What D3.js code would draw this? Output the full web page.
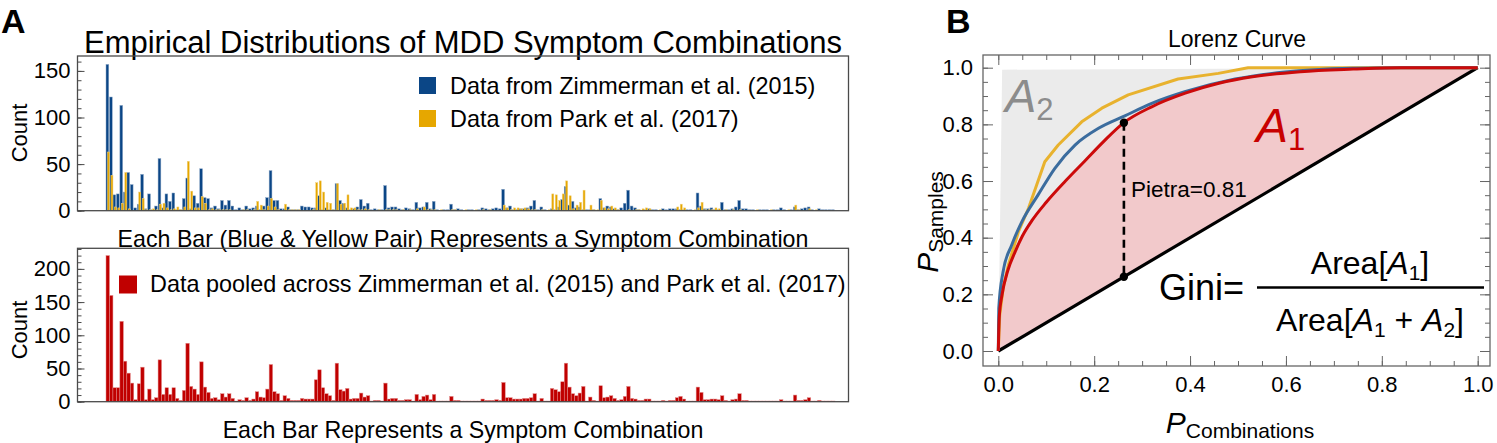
<!DOCTYPE html>
<html><head><meta charset="utf-8">
<script src="https://cdn.jsdelivr.net/npm/d3@7"></script>
<style>
html,body{margin:0;padding:0;background:#fff;}
svg{display:block;font-family:"Liberation Sans",Arial,sans-serif;}
</style></head><body>
<svg id="c" width="1497" height="443"></svg>
<script>
// ---------- DATA ----------
const combinations = d3.range(1, 211);
const zimmerman = [
157,122,17,18,113,20,41,28,3,7,
39,2,18,1,5,56,3,18,10,19,
1,1,13,35,2,16,8,45,14,13,
3,5,2,11,6,11,5,1,3,1,
5,2,3,5,1,5,14,43,11,11,
2,2,4,1,1,1,5,4,4,3,
3,16,1,3,1,1,29,11,8,3,
1,2,4,12,5,8,1,2,1,1,
27,3,4,4,2,1,3,2,1,9,
3,4,9,2,10,1,0,1,1,7,
1,2,1,0,1,1,0,1,3,2,
1,2,3,2,23,3,5,1,1,2,
2,3,5,11,1,4,1,0,2,1,
4,12,26,6,10,3,4,1,1,1,
1,0,13,3,5,4,2,1,3,8,
22,5,3,1,0,1,2,1,1,0,
2,1,2,2,2,1,1,1,1,0,
19,5,2,2,3,1,1,9,1,1,
2,4,11,2,2,1,1,0,1,1,
1,0,1,1,3,1,0,1,4,1,
2,3,4,1,0,2,1,1,1,1];
const park = [
63,38,4,3,8,41,2,0,0,20,
13,1,1,2,1,7,8,3,1,2,
4,1,4,53,21,3,3,15,8,1,
2,1,1,1,1,1,0,0,0,1,
1,0,1,10,6,1,5,13,4,1,
0,7,1,1,1,1,0,0,0,1,
30,32,20,9,8,1,29,7,8,17,
3,3,1,1,2,1,0,0,1,0,
1,1,1,1,0,1,0,1,0,2,
0,4,1,1,1,0,1,0,0,1,
1,0,0,1,0,0,1,0,1,0,
1,0,0,0,6,3,1,3,3,2,
3,2,1,1,0,1,0,1,18,17,
11,18,32,16,2,6,9,22,0,6,
1,1,11,3,2,5,3,1,0,0,
1,0,1,1,2,3,2,0,0,1,
0,0,0,0,4,7,3,0,0,1,
3,9,1,1,1,3,2,0,1,0,
1,0,1,0,0,0,0,1,0,0,
0,1,0,0,0,0,1,0,6,1,
0,0,2,0,1,0,0,0,0,0];
const pooled = [
220,160,21,21,121,61,43,28,3,27,
52,3,19,3,6,63,11,21,11,21,
5,2,17,88,23,19,11,60,22,14,
5,6,3,12,7,12,5,1,3,2,
6,2,4,15,7,6,19,56,15,12,
2,9,5,2,2,2,5,4,4,4,
33,48,21,12,9,2,58,18,16,20,
4,5,5,13,7,9,1,2,2,1,
28,4,5,5,2,2,3,3,1,11,
3,8,10,3,11,1,1,1,1,8,
2,2,1,1,1,1,1,1,4,2,
2,2,3,2,29,6,6,4,4,4,
5,5,6,12,1,5,1,1,20,18,
15,30,58,22,12,9,13,23,1,7,
2,1,24,6,7,9,5,2,3,8,
23,5,4,2,2,4,4,1,1,1,
2,1,2,2,6,8,4,1,1,1,
22,14,3,3,4,4,3,9,2,1,
3,4,12,2,2,1,1,1,1,1,
1,1,1,1,3,1,1,1,10,2,
2,3,6,1,1,2,1,1,1,1];
const countTicksTop = [0,50,100,150];
const countMinorTop = [0,10,20,30,40,50,60,70,80,90,100,110,120,130,140,150,160];
const countTicksBottom = [0,50,100,150,200];
const countMinorBottom = [0,10,20,30,40,50,60,70,80,90,100,110,120,130,140,150,160,170,180,190,200,210,220,230];
const lorenzTicks = [0,0.2,0.4,0.6,0.8,1.0];
const lorenzMinor = [0,0.05,0.1,0.15,0.2,0.25,0.3,0.35,0.4,0.45,0.5,0.55,0.6,0.65,0.7,0.75,0.8,0.85,0.9,0.95,1.0];
const lorenzPooled = [[0,0],[0.002,0.12],[0.008,0.20],[0.020,0.285],[0.035,0.35],[0.050,0.405],[0.070,0.46],[0.100,0.525],[0.140,0.60],[0.180,0.67],[0.220,0.74],[0.262,0.806],[0.320,0.862],[0.390,0.910],[0.460,0.945],[0.530,0.968],[0.630,0.986],[0.740,0.995],[0.840,1.0],[1,1]];
const lorenzZimmerman = [[0,0],[0.001,0.151],[0.010,0.280],[0.028,0.374],[0.049,0.456],[0.083,0.551],[0.118,0.645],[0.160,0.727],[0.209,0.786],[0.264,0.830],[0.320,0.874],[0.389,0.915],[0.494,0.960],[0.598,0.985],[0.737,0.998],[0.841,1.0],[1,1]];
const lorenzPark = [[0,0],[0.003,0.127],[0.010,0.22],[0.021,0.304],[0.042,0.421],[0.063,0.504],[0.097,0.668],[0.125,0.727],[0.174,0.809],[0.216,0.857],[0.271,0.904],[0.375,0.960],[0.459,0.980],[0.521,1.0],[1,1]];
const pietraX = 0.262, pietraTop = 0.806, pietraLabel = "Pietra=0.81";

// ---------- STYLE ----------
const BLUE = "#0b4686", YELLOW = "#e6a700", RED = "#c00000";
const svg = d3.select("#c");
const FRAME = "#4a4a4a";

function txt(x, y, s, size, opts = {}) {
  return svg.append("text").attr("x", x).attr("y", y).attr("font-size", size)
    .attr("text-anchor", opts.anchor || "start").attr("fill", opts.fill || "#000")
    .attr("font-weight", opts.weight || "normal").attr("font-style", opts.style || "normal")
    .text(s);
}

// panel letters
txt(1, 33, "A", 34, {weight: "bold"});
txt(946, 33, "B", 34, {weight: "bold"});

// ---------- PANEL A ----------
const left = 77.5, right = 848.5;
const xBand = d3.scaleBand().domain(combinations).range([106, 835]).padding(0);
const bw = xBand.bandwidth();

txt(463, 53, "Empirical Distributions of MDD Symptom Combinations", 31, {anchor: "middle"});

function countPanel(top, bottom, yMax, major, minor) {
  const y = d3.scaleLinear().domain([0, yMax]).range([bottom, top]);
  const gMin = svg.append("g").attr("transform", `translate(${left},0)`)
    .call(d3.axisLeft(y).tickValues(minor).tickSize(-4).tickFormat(""));
  gMin.select(".domain").remove();
  gMin.selectAll("line").attr("stroke", FRAME);
  const gMaj = svg.append("g").attr("transform", `translate(${left},0)`)
    .call(d3.axisLeft(y).tickValues(major).tickSize(-7).tickPadding(7).tickFormat(d3.format("d")));
  gMaj.select(".domain").remove();
  gMaj.selectAll("line").attr("stroke", FRAME);
  gMaj.selectAll("text").attr("font-size", 22).attr("font-family", "Liberation Sans, Arial, sans-serif").attr("fill", "#000");
  return y;
}

// top panel
const yTop = countPanel(56, 210.7, 166, countTicksTop, countMinorTop);
const gTop = svg.append("g");
gTop.selectAll("rect.z").data(zimmerman).join("rect")
  .attr("x", (d, i) => xBand(combinations[i]))
  .attr("width", bw * 0.8)
  .attr("y", d => yTop(d)).attr("height", d => yTop(0) - yTop(d))
  .attr("fill", BLUE).attr("stroke", "#8fa9c8").attr("stroke-width", 0.5);
gTop.selectAll("rect.p").data(park).join("rect")
  .attr("x", (d, i) => xBand(combinations[i]) + bw * 0.42)
  .attr("width", bw * 0.58)
  .attr("y", d => yTop(d)).attr("height", d => yTop(0) - yTop(d))
  .attr("fill", YELLOW).attr("stroke", "#f0cf7a").attr("stroke-width", 0.5);
svg.append("rect").attr("x", left).attr("y", 56).attr("width", right - left).attr("height", 210.7 - 56)
  .attr("fill", "none").attr("stroke", FRAME).attr("stroke-width", 1.3);

// legend top
svg.append("rect").attr("x", 419).attr("y", 77).attr("width", 17).attr("height", 17).attr("fill", BLUE);
svg.append("rect").attr("x", 419).attr("y", 110).attr("width", 17).attr("height", 17).attr("fill", YELLOW);
txt(450, 93.5, "Data from Zimmerman et al. (2015)", 23.4);
txt(450, 126.5, "Data from Park et al. (2017)", 23.4);

txt(463, 247, "Each Bar (Blue & Yellow Pair) Represents a Symptom Combination", 23.2, {anchor: "middle"});

// bottom panel
const yBot = countPanel(248.3, 401.7, 231, countTicksBottom, countMinorBottom);
svg.append("g").selectAll("rect").data(pooled).join("rect")
  .attr("x", (d, i) => xBand(combinations[i]))
  .attr("width", bw)
  .attr("y", d => yBot(d)).attr("height", d => yBot(0) - yBot(d))
  .attr("fill", RED).attr("stroke", "#e38a8a").attr("stroke-width", 0.5);
svg.append("rect").attr("x", left).attr("y", 248.3).attr("width", right - left).attr("height", 401.7 - 248.3)
  .attr("fill", "none").attr("stroke", FRAME).attr("stroke-width", 1.3);
svg.append("rect").attr("x", 119).attr("y", 275.5).attr("width", 18).attr("height", 18).attr("fill", RED);
txt(150, 292, "Data pooled across Zimmerman et al. (2015) and Park et al. (2017)", 23.4);

txt(463, 438, "Each Bar Represents a Symptom Combination", 23.2, {anchor: "middle"});

// Count labels
svg.append("text").attr("transform", "translate(27,133) rotate(-90)").attr("text-anchor", "middle")
  .attr("font-size", 22).text("Count");
svg.append("text").attr("transform", "translate(27,330) rotate(-90)").attr("text-anchor", "middle")
  .attr("font-size", 22).text("Count");

// ---------- PANEL B ----------
const fx0 = 983, fx1 = 1490, fy0 = 55, fy1 = 366;
const lx = d3.scaleLinear().domain([0, 1]).range([998.3, 1477.7]);
const ly = d3.scaleLinear().domain([0, 1]).range([351, 67.7]);

txt(1237, 47, "Lorenz Curve", 23, {anchor: "middle"});

const line = d3.line().x(d => lx(d[0])).y(d => ly(d[1])).curve(d3.curveMonotoneX);
const lineLin = d3.line().x(d => lx(d[0])).y(d => ly(d[1]));

// gray A2 area (above pooled curve)
svg.append("path").attr("d", line(lorenzPooled) + "L" + lx(0.008) + "," + ly(0.993) + "Z")
  .attr("fill", "#ebebeb");
// pink A1 area (between pooled curve and diagonal)
svg.append("path").attr("d", line(lorenzPooled) + "L" + lx(0) + "," + ly(0) + "Z")
  .attr("fill", "#f2c9cb");

// frame & ticks
svg.append("rect").attr("x", fx0).attr("y", fy0).attr("width", fx1 - fx0).attr("height", fy1 - fy0)
  .attr("fill", "none").attr("stroke", "#666").attr("stroke-width", 1.3);
function lorenzAxis(axisFn, scale, tx, ty, sizeMinor, sizeMajor, labels) {
  const gm = svg.append("g").attr("transform", `translate(${tx},${ty})`)
    .call(axisFn(scale).tickValues(lorenzMinor).tickSize(sizeMinor).tickFormat(""));
  gm.select(".domain").remove(); gm.selectAll("line").attr("stroke", "#666");
  const gM = svg.append("g").attr("transform", `translate(${tx},${ty})`)
    .call(axisFn(scale).tickValues(lorenzTicks).tickSize(sizeMajor).tickPadding(10)
      .tickFormat(labels ? d3.format(".1f") : ""));
  gM.select(".domain").remove(); gM.selectAll("line").attr("stroke", "#666");
  gM.selectAll("text").attr("font-size", 22).attr("font-family", "Liberation Sans, Arial, sans-serif").attr("fill", "#000");
}
lorenzAxis(d3.axisLeft, ly, fx0, 0, -5, -10, true);
lorenzAxis(d3.axisRight, ly, fx1, 0, -5, -10, false);
lorenzAxis(d3.axisBottom, lx, 0, fy1, -5, -10, true);
lorenzAxis(d3.axisTop, lx, 0, fy0, -5, -10, false);

// diagonal
svg.append("line").attr("x1", lx(0)).attr("y1", ly(0)).attr("x2", lx(1)).attr("y2", ly(1))
  .attr("stroke", "#000").attr("stroke-width", 3.2);
// curves
svg.append("path").attr("d", lineLin(lorenzPark)).attr("fill", "none").attr("stroke", "#e8b22e").attr("stroke-width", 3).attr("stroke-linejoin", "round");
svg.append("path").attr("d", line(lorenzZimmerman)).attr("fill", "none").attr("stroke", "#3b6c9e").attr("stroke-width", 3);
svg.append("path").attr("d", line(lorenzPooled)).attr("fill", "none").attr("stroke", "#cc0a0a").attr("stroke-width", 3);

// Pietra
svg.append("line").attr("x1", lx(pietraX)).attr("x2", lx(pietraX)).attr("y1", ly(pietraTop)).attr("y2", ly(pietraX))
  .attr("stroke", "#000").attr("stroke-width", 2.6).attr("stroke-dasharray", "8,5");
[[pietraX, pietraTop], [pietraX, pietraX]].forEach(p => {
  svg.append("circle").attr("cx", lx(p[0])).attr("cy", ly(p[1])).attr("r", 4.2).attr("fill", "#000");
});
txt(1131, 197, pietraLabel, 22.5);

// A2 / A1 labels
const a2 = svg.append("text").attr("x", 1005).attr("y", 112).attr("fill", "#8c8c8c").attr("font-size", 47);
a2.append("tspan").attr("font-style", "italic").text("A");
a2.append("tspan").attr("font-size", 31).attr("dy", 8).text("2");
const a1 = svg.append("text").attr("x", 1256).attr("y", 142).attr("fill", "#c80000").attr("font-size", 48);
a1.append("tspan").attr("font-style", "italic").text("A");
a1.append("tspan").attr("font-size", 31).attr("dy", 8).text("1");

// Gini formula
txt(1159, 300, "Gini=", 36);
svg.append("line").attr("x1", 1257).attr("x2", 1484).attr("y1", 287.5).attr("y2", 287.5)
  .attr("stroke", "#000").attr("stroke-width", 2.4);
const num = svg.append("text").attr("x", 1370).attr("y", 274).attr("text-anchor", "middle").attr("font-size", 32);
num.append("tspan").text("Area[");
num.append("tspan").attr("font-style", "italic").text("A");
num.append("tspan").attr("font-size", 21).attr("dy", 6).text("1");
num.append("tspan").attr("dy", -6).text("]");
const den = svg.append("text").attr("x", 1370).attr("y", 331).attr("text-anchor", "middle").attr("font-size", 32);
den.append("tspan").text("Area[");
den.append("tspan").attr("font-style", "italic").text("A");
den.append("tspan").attr("font-size", 21).attr("dy", 6).text("1");
den.append("tspan").attr("dy", -6).text(" + ");
den.append("tspan").attr("font-style", "italic").text("A");
den.append("tspan").attr("font-size", 21).attr("dy", 6).text("2");
den.append("tspan").attr("dy", -6).text("]");

// axis titles
const xl = svg.append("text").attr("x", 1240).attr("y", 433).attr("text-anchor", "middle").attr("font-size", 30);
xl.append("tspan").attr("font-style", "italic").text("P");
xl.append("tspan").attr("font-size", 21).attr("dy", 5).text("Combinations");
const yl = svg.append("text").attr("transform", "translate(938,222) rotate(-90)").attr("text-anchor", "middle").attr("font-size", 30);
yl.append("tspan").attr("font-style", "italic").text("P");
yl.append("tspan").attr("font-size", 21).attr("dy", 5).text("Samples");
</script>
</body></html>
